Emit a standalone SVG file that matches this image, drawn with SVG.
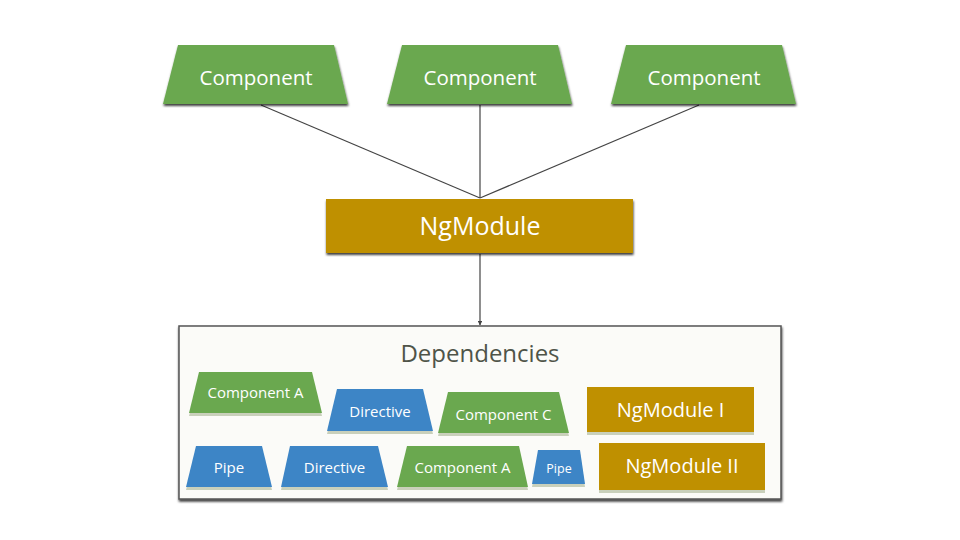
<svg xmlns="http://www.w3.org/2000/svg" width="960" height="540" viewBox="0 0 960 540">
  <defs>
    <filter id="ds" x="-10%" y="-10%" width="120%" height="130%">
      <feDropShadow dx="0.5" dy="2" stdDeviation="1.2" flood-color="#000" flood-opacity="0.75"/>
    </filter>
    <marker id="arr" viewBox="0 0 10 10" refX="9" refY="5" markerWidth="4" markerHeight="4" orient="auto">
      <path d="M0,0 L10,5 L0,10 z" fill="#444"/>
    </marker>
    <style>
      .green { fill: #6aa84f; }
      .blue { fill: #3d85c6; }
      .gold { fill: #bf9000; }
      .sh { fill: #c9d0bb; }
      .t { font-family: "Open Sans", "Noto Sans", sans-serif; fill: #ffffff; text-anchor: middle; }
      .conn { stroke: #444; stroke-width: 1.2; fill: none; }
    </style>
  </defs>
  <rect width="960" height="540" fill="#ffffff"/>

  <g id="connectors">
    <line class="conn" x1="261" y1="105" x2="480" y2="198"/>
    <line class="conn" x1="480" y1="105" x2="480" y2="198"/>
    <line class="conn" x1="699" y1="105" x2="480" y2="198"/>
    <line class="conn" x1="480" y1="254" x2="480" y2="325" marker-end="url(#arr)"/>
  </g>

  <g id="component-1">
    <polygon class="green" filter="url(#ds)" points="178,45 334,45 348,104 163,104"/>
    <text class="t" x="256" y="85" font-size="20.5">Component</text>
  </g>
  <g id="component-2">
    <polygon class="green" filter="url(#ds)" points="402,45 558,45 572,104 387,104"/>
    <text class="t" x="480" y="85" font-size="20.5">Component</text>
  </g>
  <g id="component-3">
    <polygon class="green" filter="url(#ds)" points="626,45 782,45 796,104 611,104"/>
    <text class="t" x="704" y="85" font-size="20.5">Component</text>
  </g>

  <g id="ngmodule">
    <rect class="gold" filter="url(#ds)" x="326" y="199" width="307" height="54"/>
    <text class="t" x="480" y="235" font-size="25">NgModule</text>
  </g>

  <g id="dependencies">
    <rect x="179" y="326" width="602" height="173" fill="#fbfbf8" stroke="#555" stroke-width="1.5" filter="url(#ds)"/>
    <text x="480" y="362" font-family="'Open Sans', 'Noto Sans', sans-serif" font-size="24" fill="#4f5448" text-anchor="middle">Dependencies</text>
  </g>

  <g id="dep-component-a-1">
    <polygon class="sh" points="199,375 312,375 322,416 189,416"/>
    <polygon class="green" points="199,372 312,372 322,413 189,413"/>
    <text class="t" x="255.5" y="398" font-size="15">Component A</text>
  </g>
  <g id="dep-directive-1">
    <polygon class="sh" points="337,392 423,392 433,434 327,434"/>
    <polygon class="blue" points="337,389 423,389 433,431 327,431"/>
    <text class="t" x="380" y="417" font-size="15">Directive</text>
  </g>
  <g id="dep-component-c">
    <polygon class="sh" points="448,395 559,395 569,436 438,436"/>
    <polygon class="green" points="448,392 559,392 569,433 438,433"/>
    <text class="t" x="503.5" y="420" font-size="15">Component C</text>
  </g>
  <g id="dep-ngmodule-i">
    <rect class="sh" x="587" y="390" width="167" height="45"/>
    <rect class="gold" x="587" y="387" width="167" height="45"/>
    <text class="t" x="670.5" y="417" font-size="20">NgModule I</text>
  </g>

  <g id="dep-pipe-1">
    <polygon class="sh" points="196,449 262,449 272,490 186,490"/>
    <polygon class="blue" points="196,446 262,446 272,487 186,487"/>
    <text class="t" x="229" y="473" font-size="15">Pipe</text>
  </g>
  <g id="dep-directive-2">
    <polygon class="sh" points="290,449 378,449 388,490 281,490"/>
    <polygon class="blue" points="290,446 378,446 388,487 281,487"/>
    <text class="t" x="334.5" y="473" font-size="15">Directive</text>
  </g>
  <g id="dep-component-a-2">
    <polygon class="sh" points="407,449 519,449 528,490 397,490"/>
    <polygon class="green" points="407,446 519,446 528,487 397,487"/>
    <text class="t" x="462.5" y="473" font-size="15">Component A</text>
  </g>
  <g id="dep-pipe-2">
    <polygon class="sh" points="538,453 580,453 585,487 532,487"/>
    <polygon class="blue" points="538,450 580,450 585,484 532,484"/>
    <text class="t" x="559" y="473" font-size="12.5">Pipe</text>
  </g>
  <g id="dep-ngmodule-ii">
    <rect class="sh" x="599" y="446" width="166" height="47"/>
    <rect class="gold" x="599" y="443" width="166" height="47"/>
    <text class="t" x="682" y="473" font-size="20">NgModule II</text>
  </g>
</svg>
